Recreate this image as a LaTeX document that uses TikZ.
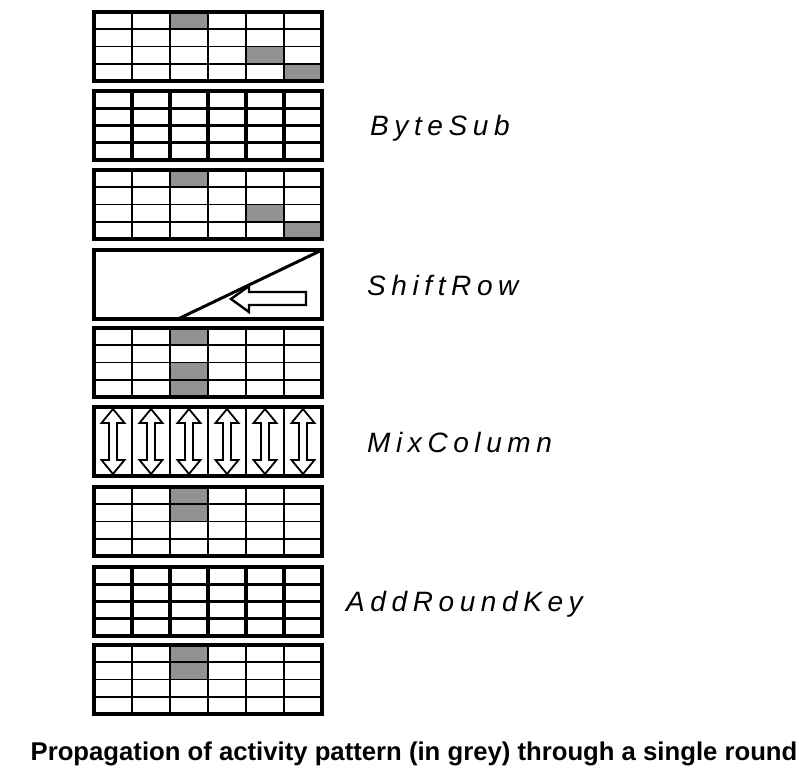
\documentclass[tikz,border=0pt]{standalone}
\usepackage{fontspec}
\setmainfont{Liberation Sans}
\newfontfamily\lblfont[LetterSpace=20]{Liberation Sans}
\definecolor{cellgrey}{RGB}{145,145,145}
\tikzset{
  outerbox/.style={line width=3.2pt},
  greycell/.style={fill=cellgrey},
  lbl/.style={anchor=base west, inner sep=0pt, font=\lblfont\itshape\fontsize{28}{32}\selectfont},
  captiontext/.style={anchor=base, inner sep=0pt, font=\bfseries\fontsize{25.7}{30}\selectfont},
  hollowarrow/.style={line width=1.8pt, fill=white, line join=miter},
}
\newcommand\gridblk[2]{%
  \foreach \i in {1,...,5} \draw[line width=#2] ({94+38*\i},#1) -- ++(0,69);
  \foreach \j in {1,2,3} \draw[line width=#2] (94,{#1+17.25*\j}) -- ++(228,0);
  \draw[outerbox] (94,#1) rectangle ++(228,69);
}
\newcommand\greyat[3]{\fill[greycell] ({94+38*(#2-1)},{#1+17.25*(#3-1)}) rectangle ++(38,17.25);}
\begin{document}
\begin{tikzpicture}[x=1pt,y=-1pt]
\useasboundingbox (0,0) rectangle (804,776);
% block 1
\greyat{12}{3}{1}\greyat{12}{5}{3}\greyat{12}{6}{4}
\gridblk{12}{1.8pt}
% block 2 ByteSub
\gridblk{91}{3.4pt}
% block 3
\greyat{170}{3}{1}\greyat{170}{5}{3}\greyat{170}{6}{4}
\gridblk{170}{1.8pt}
% block 4 ShiftRow
\draw[outerbox] (94,250) rectangle ++(228,69);
\draw[line width=3pt] (178,319) -- (322,250);
\draw[hollowarrow, line width=2.4pt] (306,292) -- (249,292) -- (249,286) -- (231,299) -- (249,312) -- (249,305) -- (306,305) -- cycle;
% block 5
\greyat{328}{3}{1}\greyat{328}{3}{3}\greyat{328}{3}{4}
\gridblk{328}{1.8pt}
% block 6 MixColumn
\draw[outerbox] (94,407) rectangle ++(228,69);
\foreach \i in {1,...,5} \draw[line width=1.8pt] ({94+38*\i},407) -- ++(0,69);
\foreach \i in {0,...,5} {
  \pgfmathsetmacro\cx{113+38*\i}
  \draw[hollowarrow] (\cx,409) -- ++(11.5,14) -- ++(-7.5,0) -- (\cx+4,460) -- ++(7.5,0) -- (\cx,474) -- ++(-11.5,-14) -- ++(7.5,0) -- (\cx-4,423) -- ++(-7.5,0) -- cycle;
}
% block 7
\greyat{487}{3}{1}\greyat{487}{3}{2}
\gridblk{487}{1.8pt}
% block 8 AddRoundKey
\gridblk{567}{3.4pt}
% block 9
\greyat{645}{3}{1}\greyat{645}{3}{2}
\gridblk{645}{1.8pt}
% labels
\node[lbl] (bytesub) at (370,135.5) {ByteSub};
\node[lbl] (shiftrow) at (367,295) {ShiftRow};
\node[lbl] (mixcolumn) at (367,452) {MixColumn};
\node[lbl] (addroundkey) at (346,611) {AddRoundKey};
\node[captiontext] (caption) at (414,760) {Propagation of activity pattern (in grey) through a single round};
\end{tikzpicture}
\end{document}
